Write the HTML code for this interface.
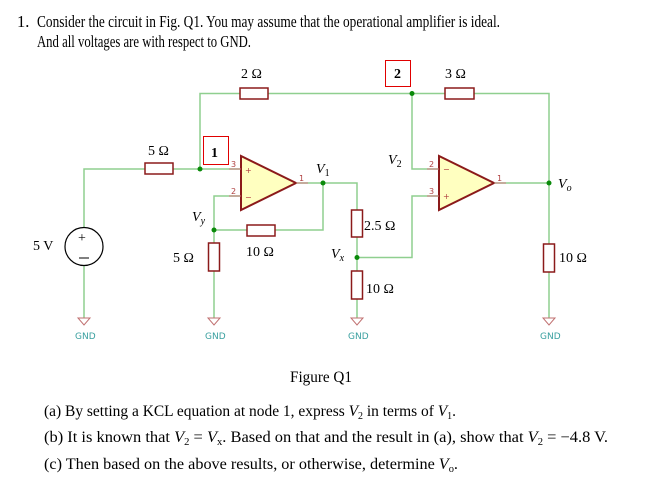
<!DOCTYPE html>
<html><head><style>body{margin:0;background:#fff}svg{display:block}
.t{font-family:"Liberation Serif",serif;font-size:15.5px;fill:#000}
.h{font-family:"Liberation Serif",serif;font-size:16.5px;fill:#000}
.l{font-family:"Liberation Serif",serif;font-size:14px;fill:#000}
.i{font-style:italic}
.g{font-family:"DejaVu Sans",sans-serif;font-size:9px;fill:#3aa0a0}
.p{font-family:"DejaVu Sans",sans-serif;font-size:8px;fill:#b04040}
</style></head><body>
<svg width="649" height="497" viewBox="0 0 649 497" xmlns="http://www.w3.org/2000/svg">
<text class="h" x="17" y="27">1.</text>
<text class="h" x="37" y="27" textLength="463" lengthAdjust="spacingAndGlyphs">Consider the circuit in Fig. Q1.  You may assume that the operational amplifier is ideal.</text>
<text class="h" x="37" y="47" textLength="214" lengthAdjust="spacingAndGlyphs">And all voltages are with respect to GND.</text>

<g stroke="#8fcf8f" stroke-width="1.5" fill="none">
<polyline points="84,227 84,169 145,169"/><line x1="173" y1="169" x2="241" y2="169"/>
<polyline points="200,169 200,93.5 240,93.5"/><line x1="268" y1="93.5" x2="445" y2="93.5"/>
<polyline points="474,93.5 549,93.5 549,244"/><line x1="549" y1="272" x2="549" y2="318"/>
<line x1="84" y1="266" x2="84" y2="318"/>
<polyline points="241,196 214,196 214,243"/><line x1="214" y1="271" x2="214" y2="318"/>
<line x1="214" y1="230" x2="247" y2="230"/><polyline points="275,230 323,230 323,183"/>
<polyline points="296,183 357,183 357,210"/><line x1="357" y1="237" x2="357" y2="271"/><line x1="357" y1="299" x2="357" y2="318"/>
<polyline points="357,257.5 412,257.5 412,196 439,196"/>
<polyline points="412,93.5 412,169 439,169"/>
<line x1="494" y1="183" x2="549" y2="183"/>
</g>
<g fill="#fff" stroke="#8b1a1a" stroke-width="1.5">
<rect x="240" y="88" width="28" height="11"/><rect x="445" y="88" width="29" height="11"/>
<rect x="145" y="163" width="28" height="11"/><rect x="247" y="225" width="28" height="11"/>
<rect x="208.5" y="243" width="11" height="28"/><rect x="351.5" y="210" width="11" height="27"/>
<rect x="351.5" y="271" width="11" height="28"/><rect x="543.5" y="244" width="11" height="28"/>
<polygon points="241,156 241,210 296,183" fill="#ffffc0" stroke-width="2"/>
<polygon points="439,156 439,210 494,183" fill="#ffffc0" stroke-width="2"/>
</g>
<g stroke="#c07070" stroke-width="1">
<line x1="229" y1="169" x2="241" y2="169"/><line x1="229" y1="196" x2="241" y2="196"/>
<line x1="296" y1="183" x2="308" y2="183"/><line x1="427" y1="169" x2="439" y2="169"/>
<line x1="427" y1="196" x2="439" y2="196"/><line x1="494" y1="183" x2="506" y2="183"/>
</g>
<text class="p" x="231" y="167">3</text><text class="p" x="231" y="194">2</text><text class="p" x="299" y="181">1</text>
<text class="p" x="429" y="167">2</text><text class="p" x="429" y="194">3</text><text class="p" x="497" y="181">1</text>
<text class="p" x="245" y="173" fill="#3a9">+</text><text class="p" x="245" y="200">−</text>
<text class="p" x="443" y="172">−</text><text class="p" x="443" y="199">+</text>
<circle cx="84" cy="246.5" r="19" fill="#fff" stroke="#000" stroke-width="1.2"/>
<text class="l" x="78" y="242" font-size="13">+</text><line x1="79" y1="258" x2="89" y2="258" stroke="#000"/>
<g fill="#0a8a0a"><circle cx="200" cy="169" r="2.5"/><circle cx="323" cy="183" r="2.5"/><circle cx="214" cy="230" r="2.5"/>
<circle cx="412" cy="93.5" r="2.5"/><circle cx="357" cy="257.5" r="2.5"/><circle cx="549" cy="183" r="2.5"/></g>
<g fill="none" stroke="#c07070"><polygon points="78,318 90,318 84,325"/><polygon points="208,318 220,318 214,325"/>
<polygon points="351,318 363,318 357,325"/><polygon points="543,318 555,318 549,325"/></g>
<text class="g" x="75" y="339">GND</text><text class="g" x="205" y="339">GND</text><text class="g" x="348" y="339">GND</text><text class="g" x="540" y="339">GND</text>
<rect x="203.5" y="136.5" width="25" height="28" fill="none" stroke="#e00000"/>
<rect x="385.5" y="60.5" width="25" height="26" fill="none" stroke="#e00000"/>
<text class="l" x="211" y="157" font-weight="bold">1</text><text class="l" x="394" y="78" font-weight="bold">2</text>
<text class="l" x="241" y="78">2 Ω</text><text class="l" x="445" y="78">3 Ω</text>
<text class="l" x="148" y="155">5 Ω</text><text class="l" x="33" y="250">5 V</text>
<text class="l" x="173" y="262">5 Ω</text><text class="l" x="246" y="256">10 Ω</text>
<text class="l" x="364" y="230">2.5 Ω</text><text class="l" x="366" y="293">10 Ω</text><text class="l" x="559" y="262">10 Ω</text>
<text class="l i" x="316" y="173">V<tspan font-size="10" dy="3" font-style="normal">1</tspan></text>
<text class="l i" x="388" y="164">V<tspan font-size="10" dy="3" font-style="normal">2</tspan></text>
<text class="l i" x="192" y="221">V<tspan font-size="10" dy="3">y</tspan></text>
<text class="l i" x="331" y="258">V<tspan font-size="10" dy="3">x</tspan></text>
<text class="l i" x="558" y="188">V<tspan font-size="10" dy="3">o</tspan></text>

<text class="t" x="290" y="382" textLength="62" lengthAdjust="spacingAndGlyphs">Figure Q1</text>
<text class="t" x="44" y="416" textLength="412" lengthAdjust="spacingAndGlyphs">(a) By setting a KCL equation at node 1, express <tspan class="i">V</tspan><tspan font-size="10" dy="3">2</tspan><tspan dy="-3"> in terms of </tspan><tspan class="i">V</tspan><tspan font-size="10" dy="3">1</tspan><tspan dy="-3">.</tspan></text>
<text class="t" x="44" y="442" textLength="564" lengthAdjust="spacingAndGlyphs">(b) It is known that <tspan class="i">V</tspan><tspan font-size="10" dy="3">2</tspan><tspan dy="-3"> = </tspan><tspan class="i">V</tspan><tspan font-size="10" dy="3">x</tspan><tspan dy="-3">. Based on that and the result in (a), show that </tspan><tspan class="i">V</tspan><tspan font-size="10" dy="3">2</tspan><tspan dy="-3"> = −4.8 V.</tspan></text>
<text class="t" x="44" y="469" textLength="414" lengthAdjust="spacingAndGlyphs">(c) Then based on the above results, or otherwise, determine <tspan class="i">V</tspan><tspan font-size="10" dy="3">o</tspan><tspan dy="-3">.</tspan></text>
</svg>
</body></html>
